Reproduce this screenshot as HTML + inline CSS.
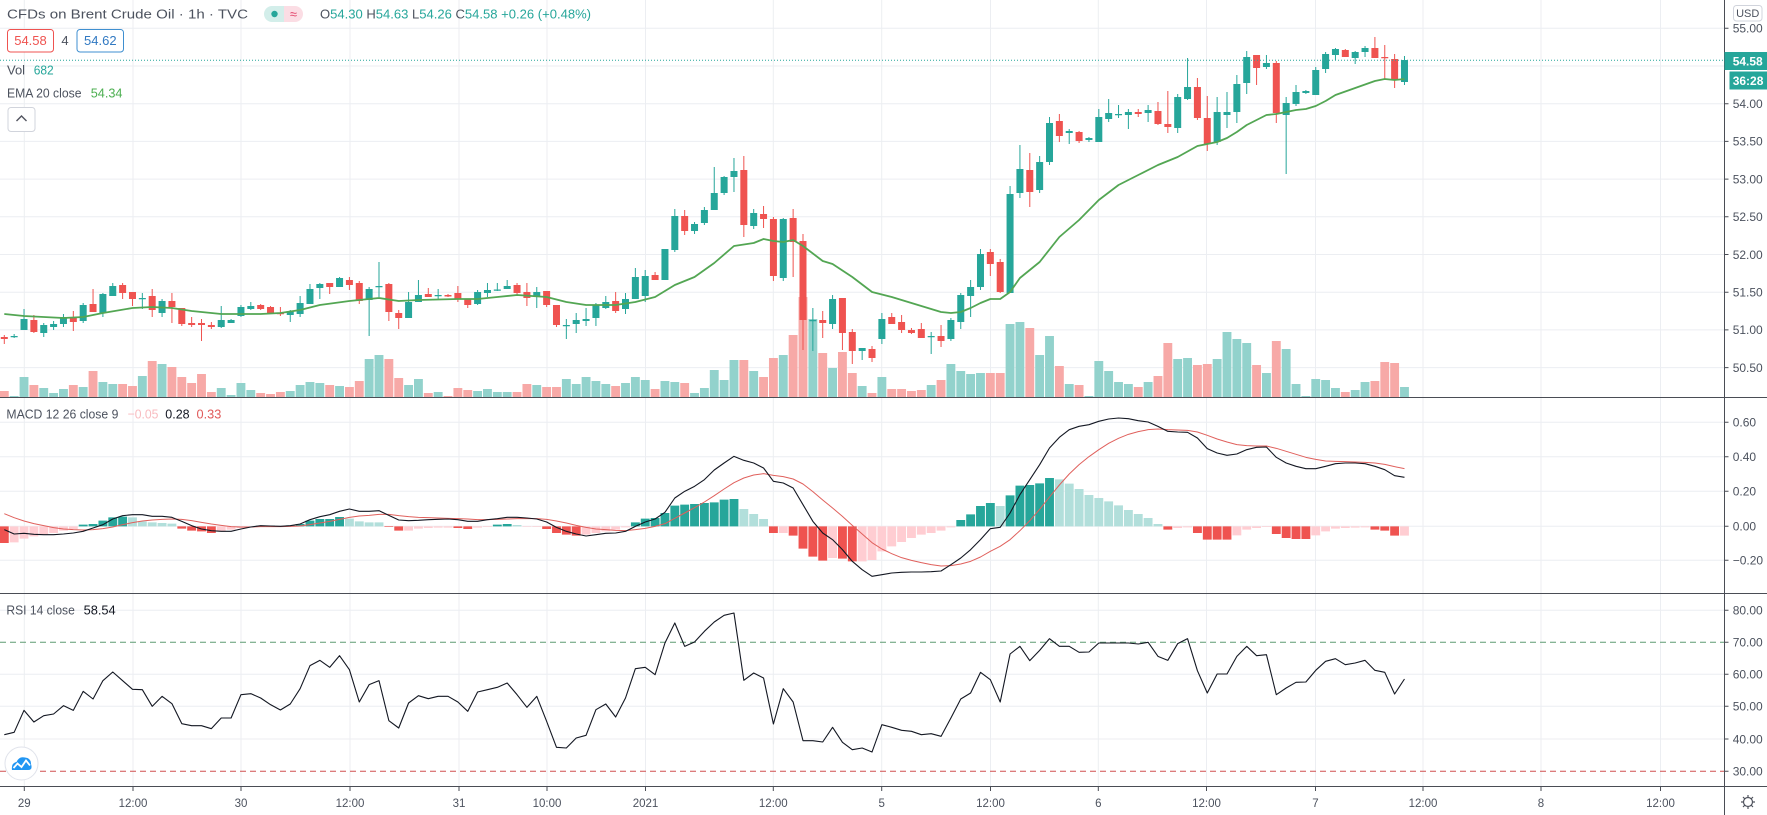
<!DOCTYPE html>
<html><head><meta charset="utf-8">
<style>
html,body{margin:0;padding:0;background:#fff;}
#w{position:relative;width:1767px;height:815px;overflow:hidden;background:#fff;font-family:"Liberation Sans",sans-serif;}
svg{position:absolute;display:block;overflow:hidden;}
</style></head><body><div id="w">

<!-- grid layer -->
<svg style="left:0;top:0" width="1767" height="815">
<g stroke="#eceef2" stroke-width="1" fill="none">
<path d="M0 28.3H1724M0 66H1724M0 103.7H1724M0 141.4H1724M0 179.1H1724M0 216.8H1724M0 254.5H1724M0 292.2H1724M0 329.9H1724M0 367.6H1724"/>
<path d="M0 422.3H1724M0 456.7H1724M0 491.3H1724M0 526.3H1724M0 560.3H1724"/>
<path d="M0 610.3H1724M0 674.3H1724M0 706.3H1724M0 739H1724"/>
<path d="M24.3 0V787M133 0V787M241 0V787M350 0V787M459 0V787M547 0V787M645.5 0V787M773.3 0V787M881.7 0V787M990.5 0V787M1098.3 0V787M1206.5 0V787M1315.5 0V787M1423 0V787M1541 0V787M1660.5 0V787"/>
</g>
<path d="M0 642.3H1724" stroke="#5f9b72" stroke-width="1" stroke-dasharray="6 4"/>
<path d="M0 771.3H1724" stroke="#d05050" stroke-width="1" stroke-dasharray="6 4"/>
</svg>

<!-- main pane data -->
<svg style="left:0;top:0" width="1724" height="397" viewBox="-0.436 0 174.84 397" preserveAspectRatio="none">
<path fill="#92d2cc" d="M.55 396h.9V397h-.9zM1.55 377h.9V397h-.9zM3.55 388h.9V397h-.9zM4.55 393h.9V397h-.9zM5.55 389h.9V397h-.9zM7.55 387h.9V397h-.9zM9.55 382h.9V397h-.9zM10.55 384h.9V397h-.9zM13.55 376h.9V397h-.9zM15.55 364h.9V397h-.9zM21.55 388h.9V397h-.9zM22.55 395h.9V397h-.9zM23.55 383h.9V397h-.9zM24.55 390h.9V397h-.9zM28.55 391h.9V397h-.9zM29.55 385h.9V397h-.9zM30.55 382h.9V397h-.9zM31.55 383h.9V397h-.9zM33.55 386h.9V397h-.9zM36.55 359h.9V397h-.9zM37.55 355h.9V397h-.9zM40.55 385h.9V397h-.9zM41.55 379h.9V397h-.9zM43.55 392h.9V397h-.9zM47.55 391h.9V397h-.9zM48.55 389h.9V397h-.9zM49.55 392h.9V397h-.9zM50.55 392h.9V397h-.9zM53.55 385h.9V397h-.9zM56.55 379h.9V397h-.9zM57.55 384h.9V397h-.9zM58.55 377h.9V397h-.9zM59.55 381h.9V397h-.9zM60.55 384h.9V397h-.9zM62.55 383h.9V397h-.9zM63.55 377h.9V397h-.9zM64.55 380h.9V397h-.9zM66.55 381h.9V397h-.9zM67.55 382h.9V397h-.9zM69.55 393h.9V397h-.9zM70.55 388h.9V397h-.9zM71.55 370h.9V397h-.9zM72.55 380h.9V397h-.9zM73.55 360h.9V397h-.9zM75.55 371h.9V397h-.9zM78.55 355h.9V397h-.9zM81.55 319h.9V397h-.9zM83.55 368h.9V397h-.9zM86.55 386h.9V397h-.9zM88.55 377h.9V397h-.9zM93.55 385h.9V397h-.9zM95.55 364h.9V397h-.9zM96.55 371h.9V397h-.9zM97.55 374h.9V397h-.9zM98.55 373h.9V397h-.9zM101.55 324h.9V397h-.9zM102.55 322h.9V397h-.9zM104.55 355h.9V397h-.9zM105.55 336h.9V397h-.9zM107.55 384h.9V397h-.9zM109.55 396h.9V397h-.9zM110.55 361h.9V397h-.9zM111.55 371h.9V397h-.9zM112.55 382h.9V397h-.9zM113.55 384h.9V397h-.9zM115.55 382h.9V397h-.9zM118.55 359h.9V397h-.9zM119.55 358h.9V397h-.9zM122.55 359h.9V397h-.9zM123.55 332h.9V397h-.9zM124.55 339h.9V397h-.9zM125.55 343h.9V397h-.9zM127.55 373h.9V397h-.9zM129.55 349h.9V397h-.9zM130.55 384h.9V397h-.9zM131.55 396h.9V397h-.9zM132.55 379h.9V397h-.9zM133.55 380h.9V397h-.9zM134.55 388h.9V397h-.9zM136.55 390h.9V397h-.9zM137.55 382h.9V397h-.9zM141.55 387h.9V397h-.9z"/>
<path fill="#f7a9a7" d="M-.45 391h.9V397h-.9zM2.55 385h.9V397h-.9zM6.55 385h.9V397h-.9zM8.55 371h.9V397h-.9zM11.55 384h.9V397h-.9zM12.55 386h.9V397h-.9zM14.55 361h.9V397h-.9zM16.55 367h.9V397h-.9zM17.55 377h.9V397h-.9zM18.55 383h.9V397h-.9zM19.55 374h.9V397h-.9zM20.55 392h.9V397h-.9zM25.55 393h.9V397h-.9zM26.55 394h.9V397h-.9zM27.55 392h.9V397h-.9zM32.55 385h.9V397h-.9zM34.55 387h.9V397h-.9zM35.55 381h.9V397h-.9zM38.55 359h.9V397h-.9zM39.55 378h.9V397h-.9zM42.55 393h.9V397h-.9zM44.55 396h.9V397h-.9zM45.55 388h.9V397h-.9zM46.55 390h.9V397h-.9zM51.55 392h.9V397h-.9zM52.55 384h.9V397h-.9zM54.55 387h.9V397h-.9zM55.55 387h.9V397h-.9zM61.55 386h.9V397h-.9zM65.55 389h.9V397h-.9zM68.55 383h.9V397h-.9zM74.55 360h.9V397h-.9zM76.55 377h.9V397h-.9zM77.55 358h.9V397h-.9zM79.55 335h.9V397h-.9zM80.55 297h.9V397h-.9zM82.55 353h.9V397h-.9zM84.55 352h.9V397h-.9zM85.55 373h.9V397h-.9zM87.55 393h.9V397h-.9zM89.55 389h.9V397h-.9zM90.55 389h.9V397h-.9zM91.55 391h.9V397h-.9zM92.55 390h.9V397h-.9zM94.55 380h.9V397h-.9zM99.55 373h.9V397h-.9zM100.55 373h.9V397h-.9zM103.55 328h.9V397h-.9zM106.55 366h.9V397h-.9zM108.55 385h.9V397h-.9zM114.55 387h.9V397h-.9zM116.55 376h.9V397h-.9zM117.55 343h.9V397h-.9zM120.55 365h.9V397h-.9zM121.55 364h.9V397h-.9zM126.55 365h.9V397h-.9zM128.55 341h.9V397h-.9zM135.55 392h.9V397h-.9zM138.55 381h.9V397h-.9zM139.55 362h.9V397h-.9zM140.55 363h.9V397h-.9z"/>
<path fill="none" stroke="#26a69a" stroke-width="1" vector-effect="non-scaling-stroke" d="M1 334V338M2 309V330M4 323V337M5 321V330M6 314V327M8 303V323M10 293V317M11 283V296M14 293V309M16 299V317M22 306V328M23 319V323M24 305V317M25 302V310M29 310V322M30 296V317M31 284V304M32 283V299M34 277V287M37 287V336M38 262V297M41 292V318M42 280V302M44 289V300M48 290V305M49 283V297M50 283V291M51 280V289M54 287V308M57 319V339M58 313V333M59 308V326M60 303V326M61 296V309M63 293V314M64 268V299M65 270V302M67 249V280M68 209V252M70 222V234M71 207V225M72 167V210M73 176V195M74 158V192M76 209V229M79 218V281M82 308V351M84 295V329M87 348V360M89 313V344M94 332V354M96 318V341M97 293V329M98 280V317M99 249V290M102 186V293M103 145V198M105 156V193M106 117V165M108 129V144M110 137V142M111 109V142M112 99V122M113 105V118M114 109V129M116 105V122M119 94V133M120 58V100M123 97V145M124 92V128M125 75V123M126 51V94M128 55V69M130 97V174M131 85V106M132 90V94M133 67V95M134 52V73M135 48V60M137 51V64M138 46V57M142 56V85"/>
<path fill="none" stroke="#ef5350" stroke-width="1" vector-effect="non-scaling-stroke" d="M0 335V344M3 315V333M7 311V331M9 289V312M12 283V299M13 292V306M15 289V317M17 293V323M18 308V326M19 317V327M20 319V341M21 322V329M26 304V310M27 306V314M28 307V316M33 283V294M35 277V290M36 281V304M39 283V321M40 310V329M43 288V297M45 294V297M46 286V302M47 299V308M52 283V295M53 283V306M55 291V307M56 305V327M62 292V313M66 272V280M69 210V235M75 156V237M77 206V228M78 217V281M80 209V277M81 234V350M83 311V338M85 298V350M86 329V364M88 346V362M90 313V324M91 315V333M92 328V334M93 323V338M95 325V347M100 249V276M101 259V293M104 153V207M107 114V142M109 131V143M115 109V117M117 102V125M118 91V133M121 78V120M122 96V151M127 55V85M129 61V123M136 49V57M139 37V58M140 45V79M141 54V88"/>
<path fill="#26a69a" d="M.645 336h.71V337.3h-.71zM1.645 319h.71V330h-.71zM3.645 325h.71V333h-.71zM4.645 324h.71V327h-.71zM5.645 317h.71V324h-.71zM7.645 305h.71V321h-.71zM9.645 294h.71V313h-.71zM10.645 286h.71V296h-.71zM13.645 298h.71V299.3h-.71zM15.645 301h.71V313h-.71zM21.645 320h.71V327h-.71zM22.645 320h.71V323h-.71zM23.645 307h.71V316h-.71zM24.645 306h.71V309h-.71zM28.645 311h.71V315h-.71zM29.645 303h.71V314h-.71zM30.645 289h.71V304h-.71zM31.645 284h.71V288h-.71zM33.645 278h.71V287h-.71zM36.645 289h.71V300h-.71zM37.645 286h.71V287.3h-.71zM40.645 302h.71V318h-.71zM41.645 295h.71V302h-.71zM43.645 295h.71V296.3h-.71zM47.645 292h.71V304h-.71zM48.645 290h.71V293h-.71zM49.645 289.5h.71V290.8h-.71zM50.645 286h.71V289h-.71zM53.645 292h.71V297h-.71zM56.645 325h.71V326.3h-.71zM57.645 320h.71V324h-.71zM58.645 319h.71V321h-.71zM59.645 305h.71V318h-.71zM60.645 302h.71V308h-.71zM62.645 299h.71V309h-.71zM63.645 277h.71V299h-.71zM64.645 276h.71V296h-.71zM66.645 249h.71V280h-.71zM67.645 216h.71V250h-.71zM69.645 224h.71V231h-.71zM70.645 210h.71V223h-.71zM71.645 193h.71V210h-.71zM72.645 177h.71V193h-.71zM73.645 171h.71V177h-.71zM75.645 213h.71V226h-.71zM78.645 219h.71V278h-.71zM81.645 320h.71V321.3h-.71zM83.645 299h.71V324h-.71zM86.645 348h.71V351h-.71zM88.645 319h.71V339h-.71zM93.645 336h.71V337.3h-.71zM95.645 320h.71V339h-.71zM96.645 295h.71V322h-.71zM97.645 287h.71V296h-.71zM98.645 254h.71V287h-.71zM101.645 194h.71V293h-.71zM102.645 169h.71V193h-.71zM104.645 162h.71V190h-.71zM105.645 123h.71V162h-.71zM107.645 131h.71V133h-.71zM109.645 138h.71V140h-.71zM110.645 117h.71V142h-.71zM111.645 113h.71V119h-.71zM112.645 114h.71V115.3h-.71zM113.645 112h.71V115h-.71zM115.645 110h.71V113h-.71zM118.645 97h.71V128h-.71zM119.645 87h.71V99h-.71zM122.645 112h.71V142h-.71zM123.645 112h.71V115h-.71zM124.645 84h.71V112h-.71zM125.645 57h.71V83h-.71zM127.645 63h.71V67h-.71zM129.645 103h.71V115h-.71zM130.645 92h.71V104h-.71zM131.645 91h.71V93h-.71zM132.645 70h.71V95h-.71zM133.645 54h.71V69h-.71zM134.645 49h.71V55h-.71zM136.645 52h.71V58h-.71zM137.645 48h.71V52h-.71zM141.645 60h.71V82h-.71z"/>
<path fill="#ef5350" d="M-.355 337h.71V339h-.71zM2.645 320h.71V332h-.71zM6.645 318h.71V322h-.71zM8.645 304h.71V312h-.71zM11.645 285h.71V293h-.71zM12.645 292h.71V299h-.71zM14.645 296h.71V310h-.71zM16.645 301h.71V307h-.71zM17.645 308h.71V324h-.71zM18.645 323h.71V325h-.71zM19.645 323h.71V325h-.71zM20.645 325h.71V327h-.71zM25.645 305h.71V309h-.71zM26.645 307h.71V313h-.71zM27.645 313h.71V314.3h-.71zM32.645 283h.71V287h-.71zM34.645 280h.71V285h-.71zM35.645 283h.71V301h-.71zM38.645 284h.71V312h-.71zM39.645 313h.71V318h-.71zM42.645 294h.71V297h-.71zM44.645 295h.71V296.5h-.71zM45.645 293h.71V299h-.71zM46.645 299h.71V305h-.71zM51.645 285h.71V293h-.71zM52.645 292h.71V298h-.71zM54.645 291h.71V305h-.71zM55.645 305h.71V325h-.71zM61.645 301h.71V311h-.71zM65.645 275h.71V280h-.71zM68.645 216h.71V231h-.71zM74.645 170h.71V225h-.71zM76.645 214h.71V219h-.71zM77.645 219h.71V276h-.71zM79.645 218h.71V242h-.71zM80.645 241h.71V320h-.71zM82.645 320h.71V323h-.71zM84.645 298h.71V333h-.71zM85.645 332h.71V351h-.71zM87.645 349h.71V358h-.71zM89.645 317h.71V324h-.71zM90.645 322h.71V330h-.71zM91.645 330h.71V333h-.71zM92.645 329h.71V338h-.71zM94.645 336h.71V341h-.71zM99.645 252h.71V264h-.71zM100.645 262h.71V292h-.71zM103.645 170h.71V192h-.71zM106.645 121h.71V136h-.71zM108.645 132h.71V141h-.71zM114.645 112h.71V114h-.71zM116.645 111h.71V124h-.71zM117.645 124h.71V127h-.71zM120.645 87h.71V118h-.71zM121.645 118h.71V144h-.71zM126.645 55h.71V68h-.71zM128.645 63h.71V113h-.71zM135.645 50h.71V57h-.71zM138.645 48h.71V58h-.71zM139.645 57h.71V58.3h-.71zM140.645 59h.71V80h-.71z"/>
<polyline fill="none" stroke="#53a653" stroke-width="1.8" stroke-linejoin="round" vector-effect="non-scaling-stroke" points="0,314 2,316 4,317 6,318 8,317 10,313 13,308 15,307 17,308 19,311 22,314 24,314 26,314 28,313 30,310 32,305 35,301 37,299 38,298 40,301 42,300 44,299.5 46,299 48,299 50,297 52,295 55,297 57,302 59,305 62,305 64,302 66,297 68,285 70,277 72,263 74,246 76,243 77,239 78,241 79,242 80,240 81,246 83,261 84,264 86,277 88,292 90,297 92,303 94,309 95,312 96,313 97,312 98,308 99,303 100,299 101,299 102,292 103,278 105,262 107,237 109,220 111,200 113,185 115,175 117,165 119,157 121,146 122,144 123,142 124,138 125,132 126,125 128,115 129,114 131,110 132,109 133,106 134,101 135,95 137,88 139,81 140,79 141,80 142,79"/>
</svg>

<!-- MACD + RSI data -->
<svg style="left:0;top:398px" width="1724" height="389" viewBox="-0.436 0 174.84 1167" preserveAspectRatio="none">
<path fill="#26a69a" d="M7.55 380h.9V385h-.9zM8.55 378h.9V385h-.9zM9.55 368h.9V385h-.9zM10.55 358h.9V385h-.9zM11.55 356h.9V385h-.9zM25.55 383h.9V385h-.9zM26.55 383h.9V385h-.9zM28.55 382h.9V385h-.9zM29.55 378h.9V385h-.9zM30.55 368h.9V385h-.9zM31.55 363h.9V385h-.9zM32.55 363h.9V385h-.9zM33.55 357h.9V385h-.9zM49.55 380h.9V385h-.9zM50.55 378h.9V385h-.9zM63.55 373h.9V385h-.9zM64.55 362h.9V385h-.9zM65.55 360h.9V385h-.9zM66.55 345h.9V385h-.9zM67.55 323h.9V385h-.9zM68.55 320h.9V385h-.9zM69.55 318h.9V385h-.9zM70.55 315h.9V385h-.9zM71.55 313h.9V385h-.9zM72.55 305h.9V385h-.9zM73.55 303h.9V385h-.9zM96.55 366h.9V385h-.9zM97.55 349h.9V385h-.9zM98.55 324h.9V385h-.9zM99.55 315h.9V385h-.9zM101.55 292h.9V385h-.9zM102.55 263h.9V385h-.9zM103.55 261h.9V385h-.9zM104.55 256h.9V385h-.9zM105.55 240h.9V385h-.9z"/>
<path fill="#b2dfdb" d="M12.55 358h.9V385h-.9zM13.55 370h.9V385h-.9zM14.55 373h.9V385h-.9zM15.55 375h.9V385h-.9zM16.55 377h.9V385h-.9zM27.55 383.5h.9V385h-.9zM34.55 362h.9V385h-.9zM35.55 370h.9V385h-.9zM36.55 373h.9V385h-.9zM37.55 373h.9V385h-.9zM51.55 381h.9V385h-.9zM74.55 333h.9V385h-.9zM75.55 348h.9V385h-.9zM76.55 363h.9V385h-.9zM100.55 324h.9V385h-.9zM106.55 244h.9V385h-.9zM107.55 257h.9V385h-.9zM108.55 273h.9V385h-.9zM109.55 291h.9V385h-.9zM110.55 300h.9V385h-.9zM111.55 310h.9V385h-.9zM112.55 322h.9V385h-.9zM113.55 336h.9V385h-.9zM114.55 348h.9V385h-.9zM115.55 360h.9V385h-.9zM116.55 378h.9V385h-.9z"/>
<path fill="#ef5350" d="M-.45 385h.9V435h-.9zM17.55 385h.9V392h-.9zM18.55 385h.9V398h-.9zM19.55 385h.9V400h-.9zM20.55 385h.9V405h-.9zM38.55 385h.9V387h-.9zM39.55 385h.9V398h-.9zM45.55 385h.9V390h-.9zM46.55 385h.9V393h-.9zM54.55 385h.9V393h-.9zM55.55 385h.9V405h-.9zM56.55 385h.9V410h-.9zM57.55 385h.9V413h-.9zM77.55 385h.9V405h-.9zM79.55 385h.9V413h-.9zM80.55 385h.9V452h-.9zM81.55 385h.9V476h-.9zM82.55 385h.9V488h-.9zM84.55 385h.9V482h-.9zM85.55 385h.9V490h-.9zM117.55 385h.9V395h-.9zM120.55 385h.9V405h-.9zM121.55 385h.9V425h-.9zM122.55 385h.9V425h-.9zM123.55 385h.9V425h-.9zM128.55 385h.9V408h-.9zM129.55 385h.9V420h-.9zM130.55 385h.9V423h-.9zM131.55 385h.9V423h-.9zM138.55 385h.9V395h-.9zM139.55 385h.9V398h-.9zM140.55 385h.9V413h-.9z"/>
<path fill="#ffcdd2" d="M.55 385h.9V433h-.9zM1.55 385h.9V422h-.9zM2.55 385h.9V415h-.9zM3.55 385h.9V410h-.9zM4.55 385h.9V405h-.9zM5.55 385h.9V398h-.9zM6.55 385h.9V393h-.9zM21.55 385h.9V400h-.9zM22.55 385h.9V395h-.9zM23.55 385h.9V390h-.9zM24.55 385h.9V387h-.9zM40.55 385h.9V398h-.9zM41.55 385h.9V392h-.9zM42.55 385h.9V390h-.9zM43.55 385h.9V389h-.9zM44.55 385h.9V389h-.9zM47.55 385h.9V389h-.9zM48.55 385h.9V387h-.9zM52.55 385h.9V386.5h-.9zM53.55 385h.9V387h-.9zM58.55 385h.9V410h-.9zM59.55 385h.9V405h-.9zM60.55 385h.9V400h-.9zM61.55 385h.9V395h-.9zM62.55 385h.9V388h-.9zM78.55 385h.9V405h-.9zM83.55 385h.9V480h-.9zM86.55 385h.9V490h-.9zM87.55 385h.9V486h-.9zM88.55 385h.9V460h-.9zM89.55 385h.9V445h-.9zM90.55 385h.9V432h-.9zM91.55 385h.9V420h-.9zM92.55 385h.9V410h-.9zM93.55 385h.9V405h-.9zM94.55 385h.9V398h-.9zM95.55 385h.9V388h-.9zM118.55 385h.9V390h-.9zM119.55 385h.9V388h-.9zM124.55 385h.9V412h-.9zM125.55 385h.9V395h-.9zM126.55 385h.9V390h-.9zM127.55 385h.9V387h-.9zM132.55 385h.9V412h-.9zM133.55 385h.9V400h-.9zM134.55 385h.9V392h-.9zM135.55 385h.9V390h-.9zM136.55 385h.9V389h-.9zM137.55 385h.9V388h-.9zM141.55 385h.9V413h-.9z"/>
<polyline fill="none" stroke="#e0605c" stroke-width="1" stroke-linejoin="round" vector-effect="non-scaling-stroke" points="0,347 1,359 2,369 3,377 4,383 5,389 6,393 7,395 8,396 9,395 10,392 11,387 12,380 13,374 14,369 15,366 16,364 17,363 18,364 19,368 20,373 21,378 22,382 23,386 24,387 25,387 26,386 27,386 28,386 29,385 30,384 31,380 32,375 33,370 34,364 35,358 36,354 37,352 38,349 39,349 40,353 41,356 42,358 43,359 44,360 45,361 46,362 47,363 48,365 49,365 50,364 51,363 52,362 53,362 54,362 55,364 56,369 57,375 58,382 59,388 60,393 61,395 62,397 63,398 64,395 65,391 66,385 67,377 68,361 69,345 70,329 71,312 72,293 73,273 74,254 75,240 76,231 77,227 78,232 79,236 80,243 81,258 82,281 83,306 84,330 85,355 86,382 87,408 88,434 89,453 90,467 91,479 92,487 93,494 94,500 95,504 96,503 97,498 98,490 99,477 100,460 101,445 102,425 103,398 104,368 105,334 106,297 107,261 108,228 109,200 110,176 111,155 112,136 113,121 114,109 115,101 116,95 117,93 118,95 119,96 120,97 121,102 122,112 123,123 124,132 125,140 126,143 127,144 128,144 129,151 130,160 131,169 132,178 133,184 134,189 135,190 136,191 137,192 138,193 139,195 140,199 141,206 142,212"/>
<polyline fill="none" stroke="#131722" stroke-width="1.1" stroke-linejoin="round" vector-effect="non-scaling-stroke" points="0,395 1,408 2,406 3,409 4,410 5,410 6,408 7,405 8,400 9,390 10,380 11,363 12,353 13,350 14,350 15,355 16,355 17,358 18,370 19,383 20,393 21,398 22,400 23,400 24,393 25,387 26,383 27,384 28,385 29,383 30,378 31,365 32,356 33,350 34,340 35,333 36,340 37,340 38,338 39,352 40,366 41,368 42,367 43,365 44,364 45,363 46,365 47,370 48,370 49,365 50,362 51,358 52,358 53,360 54,363 55,372 56,388 57,400 58,408 59,414 60,410 61,406 62,405 63,400 64,385 65,372 66,363 67,343 68,300 69,280 70,265 71,245 72,216 73,195 74,175 75,187 76,195 77,210 78,250 79,255 80,270 81,320 82,370 83,405 84,425 85,455 86,490 87,515 88,535 89,530 90,525 91,523 92,522 93,522 94,521 95,519 96,500 97,480 98,455 99,425 100,392 101,388 102,345 103,290 104,245 105,200 106,150 107,118 108,95 109,85 110,80 111,70 112,63 113,60 114,62 115,68 116,72 117,85 118,100 119,102 120,103 121,120 122,152 123,165 124,172 125,168 126,155 127,148 128,147 129,178 130,195 131,205 132,212 133,212 134,205 135,197 136,195 137,195 138,197 139,205 140,215 141,233 142,238"/>
<polyline fill="none" stroke="#131722" stroke-width="1.1" stroke-linejoin="round" vector-effect="non-scaling-stroke" points="0,1010 1,1003 2,937 3,972 4,953 5,948 6,923 7,937 8,880 9,903 10,848 11,822 12,848 13,874 14,875 15,925 16,895 17,917 18,977 19,983 20,983 21,992 22,960 23,960 24,890 25,887 26,900 27,920 28,936 29,918 30,872 31,803 32,787 33,808 34,773 35,815 36,912 37,860 38,848 39,968 40,990 41,915 42,893 43,902 44,895 45,895 46,912 47,940 48,882 49,875 50,868 51,855 52,890 53,928 54,895 55,970 56,1048 57,1050 58,1020 59,1012 60,935 61,918 62,957 63,900 64,812 65,808 66,830 67,735 68,675 69,745 70,732 71,700 72,672 73,652 74,645 75,847 76,825 77,840 78,978 79,872 80,912 81,1028 82,1028 83,1032 84,988 85,1033 86,1055 87,1050 88,1062 89,980 90,988 91,997 92,1000 93,1010 94,1007 95,1015 96,960 97,903 98,885 99,823 100,845 101,912 102,768 103,745 104,788 105,757 106,722 107,745 108,745 109,763 110,762 111,735 112,735 113,735 114,735 115,738 116,733 117,775 118,787 119,737 120,722 121,818 122,885 123,828 124,828 125,775 126,745 127,773 128,770 129,890 130,870 131,853 132,852 133,817 134,790 135,782 136,800 137,795 138,787 139,817 140,823 141,888 142,843"/>
</svg>

<!-- top layer: axes, labels, legends -->
<svg style="left:0;top:0" width="1767" height="815" font-family="Liberation Sans, sans-serif">
<path d="M0 60.3H1724" stroke="#26a69a" stroke-width="1" stroke-dasharray="1 2"/>
<g stroke="#4a4d55" stroke-width="1" fill="none">
<path d="M0 397.5H1767M0 593.5H1767M0 786.5H1767M1724.5 0V815"/>
<path d="M1724.5 28.3h4M1724.5 103.7h4M1724.5 141.4h4M1724.5 179.1h4M1724.5 216.8h4M1724.5 254.5h4M1724.5 292.2h4M1724.5 329.9h4M1724.5 367.6h4M1724.5 422.3h4M1724.5 456.7h4M1724.5 491.3h4M1724.5 526.3h4M1724.5 560.3h4M1724.5 610.3h4M1724.5 642.3h4M1724.5 674.3h4M1724.5 706.3h4M1724.5 739h4M1724.5 771.3h4"/>
<path d="M24.3 787v4M133 787v4M241 787v4M350 787v4M459 787v4M547 787v4M645.5 787v4M773.3 787v4M881.7 787v4M990.5 787v4M1098.3 787v4M1206.5 787v4M1315.5 787v4M1423 787v4M1541 787v4M1660.5 787v4"/>
</g>
<g font-size="12" fill="#4c525e">
<text x="1732.7" y="32.6">55.00</text>
<text x="1732.7" y="108">54.00</text>
<text x="1732.7" y="145.7">53.50</text>
<text x="1732.7" y="183.4">53.00</text>
<text x="1732.7" y="221.1">52.50</text>
<text x="1732.7" y="258.8">52.00</text>
<text x="1732.7" y="296.5">51.50</text>
<text x="1732.7" y="334.2">51.00</text>
<text x="1732.7" y="371.9">50.50</text>
<text x="1732.7" y="426.6">0.60</text>
<text x="1732.7" y="461">0.40</text>
<text x="1732.7" y="495.6">0.20</text>
<text x="1732.7" y="530.6">0.00</text>
<text x="1732.7" y="564.6">−0.20</text>
<text x="1732.7" y="614.6">80.00</text>
<text x="1732.7" y="646.6">70.00</text>
<text x="1732.7" y="678.6">60.00</text>
<text x="1732.7" y="710.6">50.00</text>
<text x="1732.7" y="743.3">40.00</text>
<text x="1732.7" y="775.6">30.00</text>
</g>
<rect x="1733.5" y="5.5" width="28.5" height="15.5" rx="3" fill="#fff" stroke="#d1d4dc"/>
<text x="1747.7" y="17" font-size="11" fill="#4c525e" text-anchor="middle">USD</text>
<rect x="1724.5" y="52" width="42.5" height="18" fill="#26a69a"/>
<text x="1732.7" y="65.5" font-size="12" font-weight="bold" fill="#fff">54.58</text>
<rect x="1729.5" y="71.5" width="37.5" height="18" fill="#26a69a"/>
<text x="1732.7" y="85" font-size="12" font-weight="bold" fill="#fff">36:28</text>
<g font-size="11.5" fill="#4c525e" text-anchor="middle">
<text x="24.3" y="807">29</text>
<text x="133" y="807">12:00</text>
<text x="241" y="807">30</text>
<text x="350" y="807">12:00</text>
<text x="459" y="807">31</text>
<text x="547" y="807">10:00</text>
<text x="645.5" y="807">2021</text>
<text x="773.3" y="807">12:00</text>
<text x="881.7" y="807">5</text>
<text x="990.5" y="807">12:00</text>
<text x="1098.3" y="807">6</text>
<text x="1206.5" y="807">12:00</text>
<text x="1315.5" y="807">7</text>
<text x="1423" y="807">12:00</text>
<text x="1541" y="807">8</text>
<text x="1660.5" y="807">12:00</text>
</g>
<g stroke="#50535e" stroke-width="1.2" fill="none">
<circle cx="1748" cy="802" r="4.5"/>
<path d="M1748 795v2.5M1748 806.5v2.5M1741 802h2.5M1752.5 802h2.5M1743 797l1.8 1.8M1751.2 805.2l1.8 1.8M1753 797l-1.8 1.8M1744.8 805.2l-1.8 1.8"/>
</g>
<!-- legends -->
<text x="7" y="18.7" font-size="13" fill="#4c525e" textLength="241" lengthAdjust="spacingAndGlyphs">CFDs on Brent Crude Oil · 1h · TVC</text>
<path d="M272 6h12v16h-12a8 8 0 0 1 0-16z" fill="#d3eeea"/>
<path d="M284 6h11a8 8 0 0 1 0 16h-11z" fill="#fbdde4"/>
<circle cx="274.5" cy="14" r="3.2" fill="#26a69a"/>
<text x="293.5" y="18.5" font-size="13" fill="#e2456b" text-anchor="middle">≈</text>
<text x="320" y="18.7" font-size="13" textLength="271" lengthAdjust="spacingAndGlyphs"><tspan fill="#4c525e">O</tspan><tspan fill="#26a69a">54.30 </tspan><tspan fill="#4c525e">H</tspan><tspan fill="#26a69a">54.63 </tspan><tspan fill="#4c525e">L</tspan><tspan fill="#26a69a">54.26 </tspan><tspan fill="#4c525e">C</tspan><tspan fill="#26a69a">54.58 +0.26 (+0.48%)</tspan></text>
<rect x="7.5" y="29.5" width="46" height="22.5" rx="3" fill="#fff" stroke="#ef5350"/>
<text x="30.5" y="45.2" font-size="13" fill="#ef5350" text-anchor="middle">54.58</text>
<text x="65" y="45.2" font-size="13" fill="#4c525e" text-anchor="middle">4</text>
<rect x="77" y="29.5" width="46.5" height="22.5" rx="3" fill="#fff" stroke="#3f8fd0"/>
<text x="100.3" y="45.2" font-size="13" fill="#3179c2" text-anchor="middle">54.62</text>
<text x="7" y="74.5" font-size="13" fill="#4c525e">Vol</text>
<text x="33.7" y="74.5" font-size="13" fill="#26a69a" textLength="20" lengthAdjust="spacingAndGlyphs">682</text>
<text x="7" y="97.5" font-size="13" fill="#4c525e" textLength="74.5" lengthAdjust="spacingAndGlyphs">EMA 20 close</text>
<text x="90.7" y="97.5" font-size="13" fill="#4caf50" textLength="31.8" lengthAdjust="spacingAndGlyphs">54.34</text>
<rect x="8" y="107.5" width="27" height="24" rx="3" fill="#fff" stroke="#d1d4dc"/>
<polyline points="16.5,121 21.5,116 26.5,121" fill="none" stroke="#50535e" stroke-width="1.4"/>
<text x="6.4" y="418.7" font-size="13" fill="#4c525e" textLength="112" lengthAdjust="spacingAndGlyphs">MACD 12 26 close 9</text>
<text x="127.6" y="418.7" font-size="13" fill="#f8bbbf" textLength="30.8" lengthAdjust="spacingAndGlyphs">−0.05</text>
<text x="165.3" y="418.7" font-size="13" fill="#131722" textLength="24.3" lengthAdjust="spacingAndGlyphs">0.28</text>
<text x="196.5" y="418.7" font-size="13" fill="#e05a5a" textLength="24.8" lengthAdjust="spacingAndGlyphs">0.33</text>
<text x="6.4" y="614.7" font-size="13" fill="#4c525e" textLength="68.4" lengthAdjust="spacingAndGlyphs">RSI 14 close</text>
<text x="83.6" y="614.7" font-size="13" fill="#131722" textLength="32.1" lengthAdjust="spacingAndGlyphs">58.54</text>
<circle cx="21.5" cy="763.5" r="16.5" fill="#fff" stroke="#e0e3eb"/>
<path d="M12 770Q11 763 16.5 762Q19 756 25 757.5Q31 758 31 764Q33 770 28 770Z" fill="#2196f3"/>
<polyline points="13.5,768 17.5,763.5 21.5,767 26,760.5 30,765.5" fill="none" stroke="#fff" stroke-width="1.8"/>
</svg>
</div></body></html>
